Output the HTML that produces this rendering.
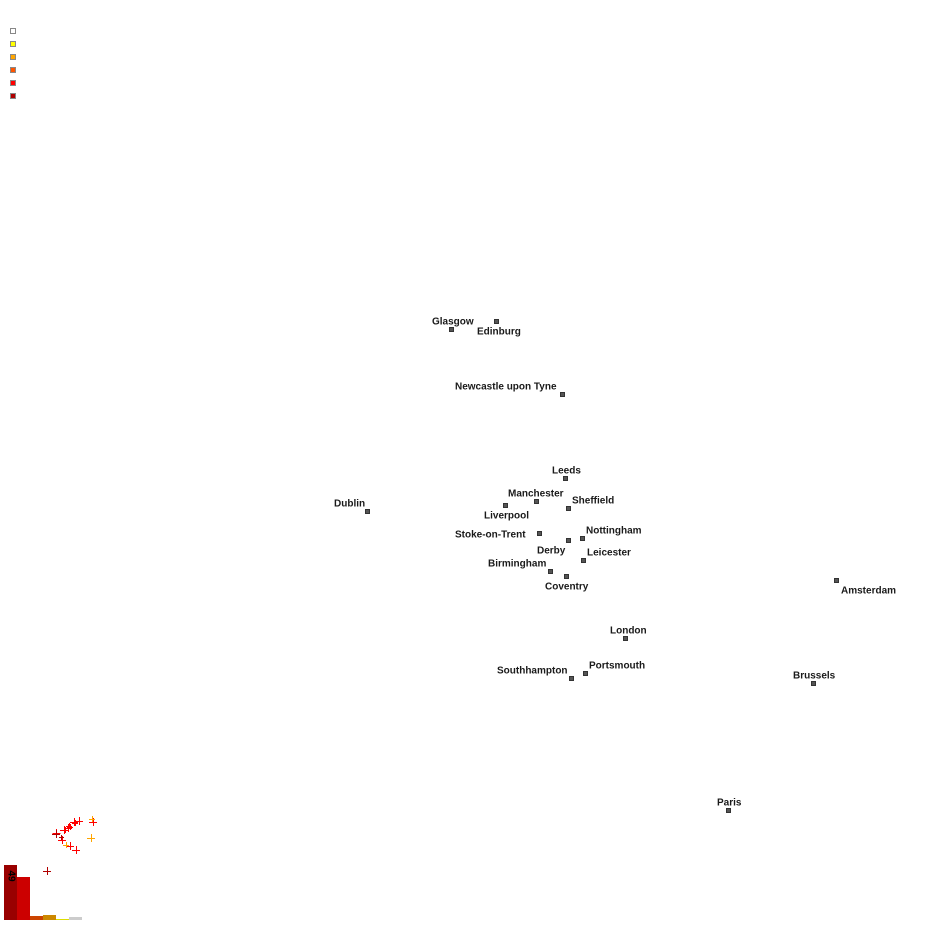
<!DOCTYPE html>
<html><head><meta charset="utf-8"><style>
html,body{margin:0;padding:0;background:#fff;width:925px;height:925px;overflow:hidden}
svg text{font-family:"Liberation Sans",sans-serif;font-size:10px;font-weight:bold;fill:#1a1a1a;dominant-baseline:middle}
</style></head><body>
<svg width="925" height="925" xmlns="http://www.w3.org/2000/svg" shape-rendering="crispEdges">
<g stroke="#888" stroke-width="1">
<rect x="10.5" y="28.5" width="5" height="5" fill="#fff"/>
<rect x="10.5" y="41.5" width="5" height="5" fill="#ffff00"/>
<rect x="10.5" y="54.5" width="5" height="5" fill="#ffa500"/>
<rect x="10.5" y="67.5" width="5" height="5" fill="#ff5500"/>
<rect x="10.5" y="80.5" width="5" height="5" fill="#ff0000"/>
<rect x="10.5" y="93.5" width="5" height="5" fill="#b00000"/>
</g>
<g fill="#555" stroke="#333" stroke-width="1">
<rect x="449.5" y="327.5" width="4" height="4"/>
<rect x="494.5" y="319.5" width="4" height="4"/>
<rect x="560.5" y="392.5" width="4" height="4"/>
<rect x="563.5" y="476.5" width="4" height="4"/>
<rect x="365.5" y="509.5" width="4" height="4"/>
<rect x="534.5" y="499.5" width="4" height="4"/>
<rect x="503.5" y="503.5" width="4" height="4"/>
<rect x="566.5" y="506.5" width="4" height="4"/>
<rect x="537.5" y="531.5" width="4" height="4"/>
<rect x="580.5" y="536.5" width="4" height="4"/>
<rect x="566.5" y="538.5" width="4" height="4"/>
<rect x="581.5" y="558.5" width="4" height="4"/>
<rect x="548.5" y="569.5" width="4" height="4"/>
<rect x="564.5" y="574.5" width="4" height="4"/>
<rect x="834.5" y="578.5" width="4" height="4"/>
<rect x="623.5" y="636.5" width="4" height="4"/>
<rect x="583.5" y="671.5" width="4" height="4"/>
<rect x="569.5" y="676.5" width="4" height="4"/>
<rect x="811.5" y="681.5" width="4" height="4"/>
<rect x="726.5" y="808.5" width="4" height="4"/>
</g>
<g transform="translate(0,1)">
<text x="432" y="321">Glasgow</text>
<text x="477" y="331">Edinburg</text>
<text x="455" y="386">Newcastle upon Tyne</text>
<text x="552" y="470">Leeds</text>
<text x="334" y="503">Dublin</text>
<text x="508" y="493">Manchester</text>
<text x="484" y="515">Liverpool</text>
<text x="572" y="500">Sheffield</text>
<text x="455" y="534">Stoke-on-Trent</text>
<text x="586" y="530">Nottingham</text>
<text x="537" y="550">Derby</text>
<text x="587" y="552">Leicester</text>
<text x="488" y="563">Birmingham</text>
<text x="545" y="586">Coventry</text>
<text x="841" y="590">Amsterdam</text>
<text x="610" y="630">London</text>
<text x="589" y="665">Portsmouth</text>
<text x="497" y="670">Southhampton</text>
<text x="793" y="675">Brussels</text>
<text x="717" y="802">Paris</text>
</g>
<g stroke="#ff0000" stroke-width="1">
<path d="M52.5 833.5h8M56.5 829v8M60 830.5h8M64.5 826v8M64 828.5h8M68.5 824v8M70 822.5h8M74.5 818v8M75 821.5h8M79.5 817v8M89 822.5h8M93.5 818v8M58 840.5h8M62.5 836v8M66 846.5h8M70.5 842v8M72 850.5h8M76.5 846v8M62 830.5h6M65.5 827v6M67 827.5h6M70.5 824v6M66 826.5h6M69.5 823v6M72 823.5h6M75.5 820v6"/>
</g>
<g stroke="#ffa500" stroke-width="1"><path d="M87 838.5h8M91.5 834v8M63 845.5h6M66.5 842v6M89 819.5h6M92.5 816v6"/></g>
<g stroke="#b00000" stroke-width="1"><path d="M52 834.5h8M56.5 830v8M43 871.5h8M47.5 867v8M59 837.5h5M61.5 835v5"/></g>
<rect x="4" y="865" width="13" height="55" fill="#990000"/>
<rect x="17" y="877" width="13" height="43" fill="#cc0000"/>
<rect x="30" y="916" width="13" height="4" fill="#cc4400"/>
<rect x="43" y="915" width="13" height="5" fill="#cc8800"/>
<rect x="56" y="919" width="13" height="1" fill="#dddd00"/>
<rect x="69" y="917" width="13" height="3" fill="#cccccc"/>
<text x="0" y="0" transform="translate(11,876) rotate(90)" text-anchor="middle" style="fill:#000">49</text>
</svg>
</body></html>
